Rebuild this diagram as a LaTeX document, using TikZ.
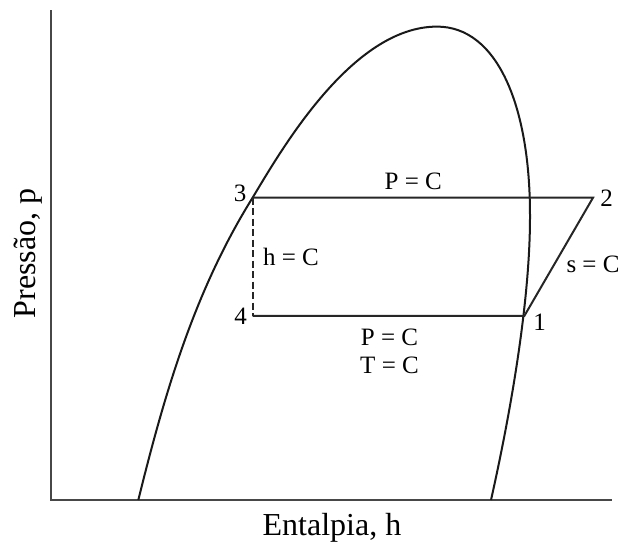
\documentclass[tikz,border=0pt]{standalone}
\usepackage{fontspec}
\setmainfont{Liberation Serif}
\begin{document}
\begin{tikzpicture}[x=1pt,y=-1pt,
  axis/.style={line width=2.4pt,draw=black!72},
  curve/.style={line width=2pt,draw=black!90},
  cycle/.style={line width=2pt,draw=black!85},
  lab/.style={font=\fontsize{25}{28}\selectfont,anchor=base,inner sep=0pt},
  axlab/.style={font=\fontsize{32}{36}\selectfont,anchor=base,inner sep=0pt}]
\useasboundingbox (0,0) rectangle (622,542);
% axes
\coordinate (top) at (51,10);
\coordinate (origin) at (51,500);
\coordinate (right) at (612,500);
\draw[axis] (top) -- (origin) -- (right);
% cycle points
\coordinate (p3) at (252.6,197.7);
\coordinate (p2) at (593,197.7);
\coordinate (p1) at (524.4,315.8);
\coordinate (p4) at (252.6,315.8);
% saturation dome
\coordinate (lb) at (138.3,500);
\coordinate (pk) at (437,26.6);
\coordinate (rx) at (530,215);
\coordinate (rb) at (491,500);
\draw[curve] (lb) .. controls (164.7,393.3) and (194.3,291.2) .. (p3)
  .. controls (281,150.5) and (352,26.6) .. (pk)
  .. controls (497,26.6) and (530,105) .. (rx)
  .. controls (530.3,300) and (510.7,412.2) .. (rb);
% cycle
\draw[cycle] (p3) -- (p2) -- (p1) -- (p4);
\draw[cycle,dashed,dash pattern=on 7pt off 3.5pt] (p3) -- (p4);
% labels
\node[lab] (l3) at (240,201.7) {3};
\node[lab] (l4) at (240.5,324) {4};
\node[lab] (l2) at (606.7,206) {2};
\node[lab] (l1) at (539.5,330) {1};
\node[lab] (hc) at (291,265) {h = C};
\node[lab] (sc) at (593,272.7) {s = C};
\node[lab] (pct) at (413.3,189.3) {P = C};
\node[lab] (pcb) at (389.5,345.5) {P = C};
\node[lab] (tcb) at (389.5,373) {T = C};
\node[axlab] (xl) at (332,535) {Entalpia, h};
\node[axlab,rotate=90] (yl) at (35,253.3) {Pressão, p};
\end{tikzpicture}
\end{document}
